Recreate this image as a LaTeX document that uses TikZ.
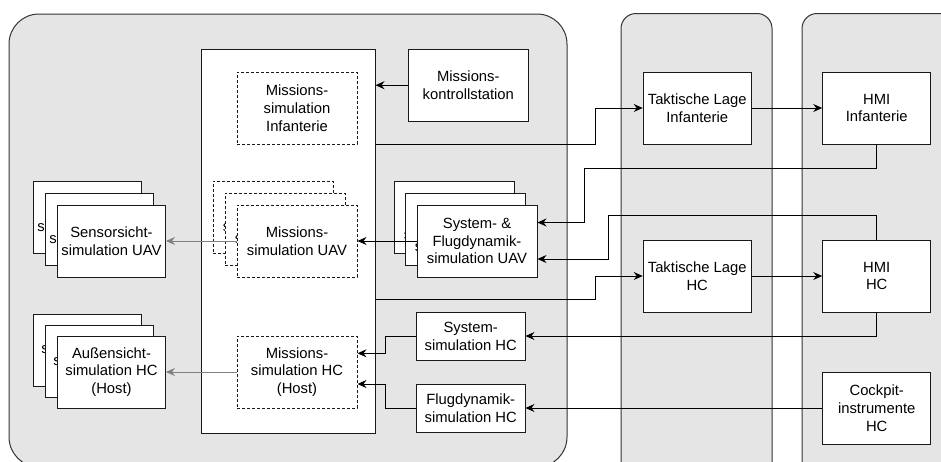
\documentclass[tikz,border=0pt]{standalone}
\usepackage{fontspec}
\setmainfont{Liberation Sans}
\usetikzlibrary{arrows.meta,calc}

\begin{document}
\begin{tikzpicture}[x=1pt,y=-1pt,
  every node/.style={font=\fontsize{14.8}{17.8}\selectfont, align=center, inner sep=0pt},
  lane/.style={draw=black!80, fill=black!10, line width=1pt, rounded corners=15pt},
  blk/.style={draw=black!90, fill=white, line width=1pt, minimum width=120pt, minimum height=72pt},
  sblk/.style={blk, minimum width=108pt},
  dbox/.style={blk, dash pattern=on 3pt off 2pt},
  arr/.style={-{Stealth[length=9pt,width=8pt,inset=3pt]}, line width=1pt, draw=black},
  garr/.style={arr, draw=black!50}]

\useasboundingbox (0,0) rectangle (941,461);

% swimlanes
\draw[lane, rounded corners=30pt] (9,14) rectangle (567,467);
\draw[lane] (621,13.5) rectangle (772,490);
\draw[lane] (802,13.5) rectangle (980,490);

% mission simulation host
\node[blk, minimum width=174pt, minimum height=384pt] (wb) at (288,241) {};
\node[dbox] (msInf) at (297,108) {Missions-\\simulation\\Infanterie};
\node[dbox] (mu3) at (273,217) {Missions-\\simulation UAV};
\node[dbox] (mu2) at (285,229) {Missions-\\simulation UAV};
\node[dbox] (mu1) at (297,241) {Missions-\\simulation UAV};
\node[dbox] (msHC) at (297,372) {Missions-\\simulation HC\\(Host)};

\node[blk] (mks) at (468.3,85.2) {Missions-\\kontrollstation};

% system and flight dynamics UAV
\node[blk] (sf3) at (454,217) {System- \&\\Flugdynamik-\\simulation UAV};
\node[blk] (sf2) at (465,229) {System- \&\\Flugdynamik-\\simulation UAV};
\node[blk] (sf1) at (477,241) {System- \&\\Flugdynamik-\\simulation UAV};

\node[sblk, minimum width=108.6pt, minimum height=48pt] (sysHC) at (470.7,336) {System-\\simulation HC};
\node[sblk, minimum width=108.6pt, minimum height=48pt] (flugHC) at (470.7,408) {Flugdynamik-\\simulation HC};

% visual simulations
\node[sblk] (sen3) at (87.5,217) {Sensorsicht-\\simulation UAV};
\node[sblk] (sen2) at (99.5,229) {Sensorsicht-\\simulation UAV};
\node[sblk] (sen1) at (111.5,241) {Sensorsicht-\\simulation UAV};
\node[sblk] (au3) at (87.5,350) {Außensicht-\\simulation HC\\(Host)};
\node[sblk] (au2) at (99.5,361.5) {Außensicht-\\simulation HC\\(Host)};
\node[sblk] (au1) at (111.5,372) {Außensicht-\\simulation HC\\(Host)};

% tactical situation
\node[sblk] (tlInf) at (697.2,108) {Taktische Lage\\Infanterie};
\node[sblk] (tlHC) at (697.2,276) {Taktische Lage\\HC};

% HMI
\node[sblk] (hmiInf) at (876.7,108) {HMI\\Infanterie};
\node[sblk] (hmiHC) at (876.7,276) {HMI\\HC};
\node[sblk] (cockpit) at (876.7,408) {Cockpit-\\instrumente\\HC};

% connectors
\draw[arr] (mks.west) -- (mks.west -| wb.east);
\draw[arr] ($(wb.north east)+(0,96)$) -- ++(220,0) |- (tlInf.west);
\draw[arr] ($(wb.north east)+(0,251)$) -- ++(220,0) |- (tlHC.west);
\draw[arr] (tlInf.east) -- (hmiInf.west);
\draw[arr] (tlHC.east) -- (hmiHC.west);
\draw[arr] (hmiInf.south) -- ++(0,24) -| ($(sf1.east)+(46.6,-18.5)$) -- ($(sf1.east)+(0,-18.5)$);
\draw[arr] (hmiHC.north) -- ++(0,-24) -| ($(sf1.east)+(70.6,18)$) -- ($(sf1.east)+(0,18)$);
\draw[arr] (hmiHC.south) |- (sysHC.east);
\draw[arr] (cockpit.west) -- (flugHC.east);
\draw[arr] (sysHC.west) -- ++(-30,0) |- ($(msHC.east)+(0,-18.7)$);
\draw[arr] (flugHC.west) -- ++(-30,0) |- ($(msHC.east)+(0,12)$);
\draw[arr] (sf1.west) -- (mu1.east);
\draw[garr] (mu1.west) -- (sen1.east);
\draw[garr] (msHC.west) -- (au1.east);
\end{tikzpicture}
\end{document}
